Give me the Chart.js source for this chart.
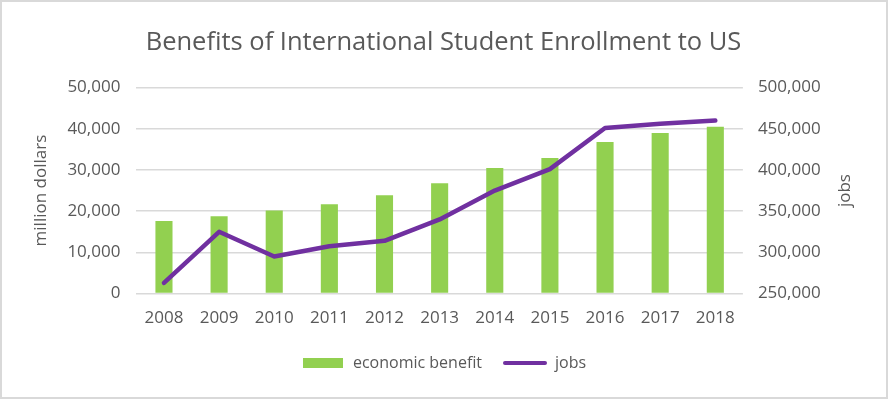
<!DOCTYPE html>
<html>
<head>
<meta charset="utf-8">
<script src="https://cdn.jsdelivr.net/npm/chart.js@4"></script>
<style>
  html, body { margin: 0; padding: 0; background: #fff; }
  #wrap { width: 888px; height: 399px; box-sizing: border-box; border: 2px solid #d9d9d9; }
</style>
</head>
<body>
<div id="wrap"><canvas id="chart" width="884" height="395"></canvas></div>
<script>
var years = ["2008","2009","2010","2011","2012","2013","2014","2015","2016","2017","2018"];
var economicBenefit = [17600, 18800, 20200, 21700, 23900, 26800, 30500, 32900, 36800, 39000, 40500];
var jobs = [263000, 325000, 295000, 307500, 314000, 340000, 375000, 401000, 451000, 456000, 460000];

var textColor = "#595959";
var green = "#92D050";
var purple = "#7030A0";

// little pictures used as legend markers
function marker(w, h, draw) {
  var c = document.createElement("canvas");
  c.width = w; c.height = h;
  draw(c.getContext("2d"));
  return c;
}
var barMarker = marker(40, 10, function (g) { g.fillStyle = green; g.fillRect(0, 0, 40, 10); });
var lineMarker = marker(46, 6, function (g) {
  g.strokeStyle = purple; g.lineWidth = 4; g.lineCap = "round";
  g.beginPath(); g.moveTo(3, 3); g.lineTo(43, 3); g.stroke();
});

// right axis title reads bottom-to-top like the left one, so draw it here
// (the axis keeps an invisible title just to hold the space)
var rightTitle = {
  id: "rightTitle",
  afterDraw: function (c) {
    var a = c.chartArea, g = c.ctx;
    g.save();
    g.translate(843, (a.top + a.bottom) / 2);
    g.rotate(-Math.PI / 2);
    g.fillStyle = textColor;
    g.font = "17px 'Open Sans', sans-serif";
    g.textAlign = "center";
    g.textBaseline = "middle";
    g.fillText("jobs", 0, 0);
    g.restore();
  }
};

Chart.defaults.font.family = "'Open Sans', sans-serif";
Chart.defaults.color = textColor;

var ctx = document.getElementById("chart");
var chart = new Chart(ctx, {
  type: "bar",
  data: {
    labels: years,
    datasets: [
      {
        label: "economic benefit",
        data: economicBenefit,
        backgroundColor: green,
        yAxisID: "y",
        barPercentage: 0.31,
        categoryPercentage: 1,
        order: 1
      },
      {
        type: "line",
        label: "jobs",
        data: jobs,
        borderColor: purple,
        backgroundColor: purple,
        borderWidth: 4.5,
        borderCapStyle: "round",
        borderJoinStyle: "round",
        pointRadius: 0,
        tension: 0,
        yAxisID: "y1",
        order: 0
      }
    ]
  },
  plugins: [rightTitle],
  options: {
    responsive: false,
    animation: false,
    layout: { padding: { left: 29, right: 30, top: 8, bottom: 16 } },
    plugins: {
      title: {
        display: true,
        text: "Benefits of International Student Enrollment to US",
        font: { size: 25.5, weight: "normal" },
        color: textColor,
        padding: { top: 17, bottom: 30 }
      },
      tooltip: { enabled: false },
      legend: {
        position: "bottom",
        labels: {
          usePointStyle: true,
          pointStyleWidth: 44,
          font: { size: 16 },
          color: textColor,
          padding: 21,
          generateLabels: function (c) {
            return c.data.datasets.map(function (ds, i) {
              return {
                text: ds.label,
                datasetIndex: i,
                pointStyle: i === 0 ? barMarker : lineMarker,
                fontColor: textColor,
                lineWidth: 0
              };
            });
          }
        }
      }
    },
    scales: {
      x: {
        grid: { display: false },
        border: { display: false },
        ticks: { font: { size: 17 }, color: textColor, padding: 6 }
      },
      y: {
        position: "left",
        min: 0,
        max: 50000,
        ticks: { stepSize: 10000, font: { size: 17 }, color: textColor, padding: 16 },
        grid: { color: "#d9d9d9", lineWidth: 1.5, drawTicks: false },
        border: { display: false },
        title: { display: true, text: "million dollars", font: { size: 17 }, color: textColor, padding: 0 }
      },
      y1: {
        position: "right",
        min: 250000,
        max: 500000,
        ticks: { stepSize: 50000, font: { size: 17 }, color: textColor, padding: 15 },
        grid: { drawOnChartArea: false, drawTicks: false },
        border: { display: false },
        title: { display: true, text: "jobs", font: { size: 17 }, color: "rgba(0,0,0,0)", padding: 0 }
      }
    }
  }
});
</script>
</body>
</html>
